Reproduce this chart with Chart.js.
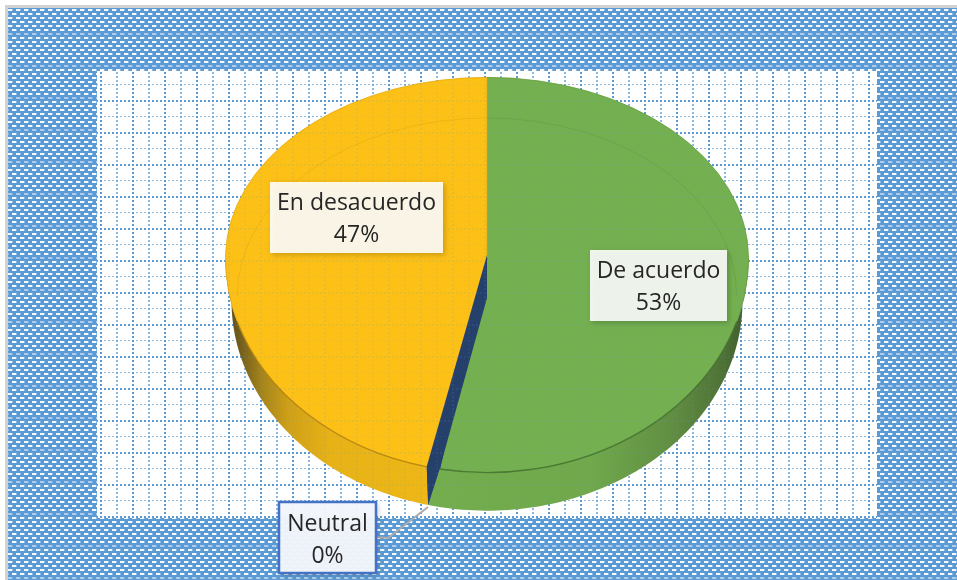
<!DOCTYPE html>
<html>
<head>
<meta charset="utf-8">
<style>html,body{margin:0;padding:0;background:#fff}canvas{display:block}</style>
<script src="https://cdn.jsdelivr.net/npm/chart.js@4/dist/chart.umd.min.js"></script>
</head>
<body>
<canvas id="c" width="957" height="580"></canvas>
<script>
// ---- data ----
const categories = ["De acuerdo", "Neutral", "En desacuerdo"];
const sliceValues = [52.9, 0.8, 46.3];
const percentLabels = ["53%", "0%", "47%"];

// ---- styling ----
const sliceColors = ["#74B04F", "#24406B", "#FDC016"];
const sliceEdges = ["#68A043", "#24406B", "#E3AC14"];
const labelBoxes = [
  {x:590,y:250,w:137,h:71,fill:"rgba(255,255,255,0.89)",border:null,t1:271,t2:303},
  {x:279,y:502,w:97,h:71,fill:"rgba(243,246,252,0.97)",border:"#4472C4",t1:524,t2:556},
  {x:270,y:182,w:173,h:71,fill:"rgba(255,255,255,0.89)",border:null,t1:203,t2:235}
];
const topSquash = 181/262, lowSquash = 215/262;
const faceCY = 258, wallCY = 301, wallShrink = 0.977, cutDrop = 40;

function tile(w,h,draw){const t=document.createElement("canvas");t.width=w;t.height=h;draw(t.getContext("2d"));return t;}

const blueTile = tile(8,32,g=>{
  g.fillStyle="#5B9BD5";g.fillRect(0,0,8,32);
  for(let r=0;r<8;r++){
    const y=r*4, x=(r%2)?4:0;
    const thin=(r===0);
    const a=thin?0.5:0.95;
    for(const ox of [-8,0,8]){
      g.fillStyle="rgba(255,255,255,"+a+")";g.fillRect(x+ox,y+1,4,2);
      g.fillStyle="rgba(255,255,255,"+(a*0.35)+")";g.fillRect(x+ox+4,y+1,1,2);
    }
  }
});
const gridTile = tile(32,32,g=>{
  const strong="rgba(91,155,213,1)",weak="rgba(91,155,213,0.7)";
  for(let i=0;i<32;i+=4){
    g.fillStyle=strong;g.fillRect(i,4,2,2);
    g.fillStyle=weak;g.fillRect(i,20,2,1);
  }
  for(let i=0;i<32;i+=4){
    g.fillStyle=strong;g.fillRect(4,i,2,2);
    g.fillStyle=weak;g.fillRect(20,i,2,2);
  }
});

const scene = {
  id:"scene",
  beforeDraw(chart){
    const g=chart.ctx;
    g.save();
    g.fillStyle="#fff";g.fillRect(0,0,957,580);
    g.fillStyle="#D2D2D2";g.fillRect(5,5,952,575);
    g.fillStyle=g.createPattern(blueTile,"repeat");g.fillRect(8,8,949,572);
    g.fillStyle="#fff";g.fillRect(97,71,780,447);
    g.fillStyle=g.createPattern(gridTile,"repeat");g.fillRect(97,71,780,447);
    g.restore();
  },
  beforeDatasetDraw(chart,args){
    const g=chart.ctx, arcs=args.meta.data, a0=arcs[0];
    const cx=a0.x, cy0=a0.y, R=a0.outerRadius, R2=R*wallShrink;
    const topPt=(t)=>[cx+R*Math.cos(t),faceCY+R*lowSquash*Math.sin(t)];
    const botPt=(t)=>[cx+R2*Math.cos(t),wallCY+R2*lowSquash*Math.sin(t)];
    const wall=(a,b,bEndA,bEndB,fill)=>{
      a=Math.max(a,0);b=Math.min(b,Math.PI);if(b<=a)return;
      g.beginPath();
      const n=80;
      for(let i=0;i<=n;i++){const p=topPt(a+(b-a)*i/n);i?g.lineTo(p[0],p[1]):g.moveTo(p[0],p[1]);}
      for(let i=0;i<=n;i++){const p=botPt(bEndB+(bEndA-bEndB)*i/n);g.lineTo(p[0],p[1]);}
      g.closePath();g.fillStyle=fill;g.fill();
    };
    const grad=(stops)=>{const l=g.createLinearGradient(cx-R,0,cx+R,0);stops.forEach(s=>l.addColorStop(s[0],s[1]));return l;};
    const yellowWall=grad([[0,"#5E5020"],[0.024,"#6E5A1C"],[0.07,"#A5841A"],[0.12,"#CFA017"],[0.2,"#E7B216"],[0.5,"#F2BA16"]]);
    const greenWall=grad([[0.4,"#73AD4D"],[0.7,"#70A84B"],[0.85,"#628F42"],[0.95,"#4F7236"],[1,"#3E5A2B"]]);
    // side wall, built from the arcs' own angles
    wall(arcs[2].startAngle,arcs[2].endAngle,arcs[2].startAngle,Math.PI,yellowWall);
    wall(arcs[0].startAngle,arcs[0].endAngle,0,arcs[1].endAngle,greenWall);
    wall(arcs[1].startAngle,arcs[1].endAngle,arcs[1].endAngle,arcs[1].endAngle,sliceColors[1]);
    // top face: two half-ellipses meeting at the apex
    const half=(yTop,yBot,k)=>{
      g.save();
      g.beginPath();g.rect(0,yTop,957,yBot-yTop);g.clip();
      g.translate(cx,faceCY);g.scale(1,k);g.translate(-cx,-cy0);
      arcs.forEach(a=>a.draw(g));
      g.restore();
    };
    half(0,faceCY+0.5,topSquash);
    half(faceCY,580,lowSquash);
    // the Neutral slice shows as the cut face: a band running down from the apex
    const nA=topPt(arcs[1].startAngle), nB=topPt(arcs[1].endAngle), nTip=botPt(arcs[1].endAngle);
    g.save();
    g.fillStyle=sliceColors[1];
    g.beginPath();g.moveTo(cx,faceCY-3);g.lineTo(cx,faceCY+cutDrop);
    g.lineTo(nA[0],nA[1]);g.lineTo(nTip[0],nTip[1]);g.lineTo(nB[0],nB[1]);g.closePath();g.fill();
    g.restore();
    // rim lines
    g.save();
    g.lineWidth=1.4;
    [[0.3,arcs[0].endAngle,"rgba(62,105,40,0.75)"],[arcs[2].startAngle,Math.PI-0.3,"rgba(170,120,10,0.7)"]].forEach(s=>{
      g.beginPath();g.strokeStyle=s[2];
      g.ellipse(cx,faceCY,R,R*lowSquash,0,s[0],s[1]);g.stroke();
    });
    // faint inner bevel ring
    g.lineWidth=1;
    g.strokeStyle="rgba(120,90,0,0.11)";
    g.beginPath();g.ellipse(cx,296,R*0.955,178,0,Math.PI,1.5*Math.PI);g.stroke();
    g.strokeStyle="rgba(30,70,20,0.1)";
    g.beginPath();g.ellipse(cx,296,R*0.955,178,0,1.5*Math.PI,2*Math.PI);g.stroke();
    // grid showing faintly through the pie
    g.beginPath();
    g.ellipse(cx,faceCY,R,R*topSquash,0,Math.PI,2*Math.PI);
    g.ellipse(cx,wallCY,R2,R2*lowSquash,0,0,Math.PI);
    g.closePath();g.clip();
    g.globalAlpha=0.13;
    g.fillStyle=g.createPattern(gridTile,"repeat");g.fillRect(0,0,957,580);
    g.restore();
    return false;
  },
  afterDraw(chart){
    const g=chart.ctx;
    // leader line for the Neutral label
    g.save();
    g.strokeStyle="#ABABAB";g.lineWidth=2;
    g.beginPath();g.moveTo(428,507);g.lineTo(388,538);g.lineTo(377,537);g.stroke();
    labelBoxes.forEach((b,i)=>{
      g.save();
      g.shadowColor="rgba(0,0,0,0.22)";g.shadowBlur=5;g.shadowOffsetX=2;g.shadowOffsetY=2;
      g.fillStyle=b.fill;g.fillRect(b.x,b.y,b.w,b.h);
      g.restore();
      if(b.border){g.strokeStyle=b.border;g.lineWidth=2.5;g.strokeRect(b.x,b.y,b.w,b.h);}
      g.fillStyle="#262626";g.font='23px "Open Sans"';g.textAlign="center";g.textBaseline="middle";
      const mx=b.x+b.w/2;
      g.fillText(categories[i],mx,b.t1);
      g.fillText(percentLabels[i],mx,b.t2);
    });
    g.restore();
  }
};

new Chart(document.getElementById("c"),{
  type:"pie",
  data:{labels:categories,datasets:[{data:sliceValues,backgroundColor:sliceColors,borderColor:sliceEdges,borderWidth:1}]},
  options:{
    responsive:false,animation:false,
    layout:{padding:{left:225,right:208,top:28,bottom:28}},
    plugins:{legend:{display:false},tooltip:{enabled:false}}
  },
  plugins:[scene]
});
</script>
</body>
</html>
